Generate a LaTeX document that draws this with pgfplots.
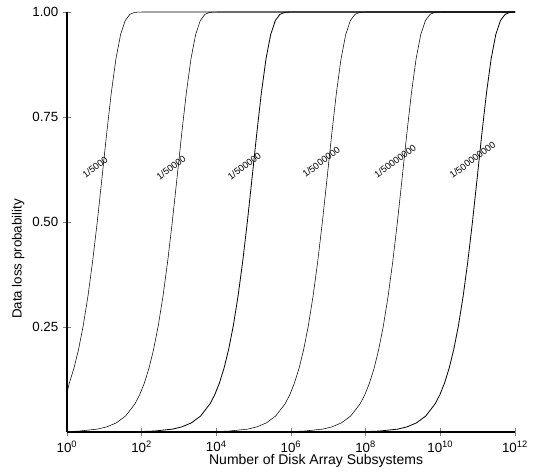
\documentclass[border=0pt]{standalone}
\usepackage{fontspec}
\setmainfont{Liberation Sans}
\usepackage{pgfplots}
\pgfplotsset{compat=1.18}

\begin{document}
\begin{tikzpicture}
\begin{axis}[
    scale only axis,
    width=336pt,
    height=315pt,
    xmin=0, xmax=12,
    ymin=0, ymax=1,
    axis x line*=bottom,
    axis y line*=left,
    axis line style={line width=1.5pt, black},
    clip=false,
    xtick={0,2,4,6,8,10,12},
    xticklabels={10\textsuperscript{0},10\textsuperscript{2},10\textsuperscript{4},10\textsuperscript{6},10\textsuperscript{8},10\textsuperscript{10},10\textsuperscript{12}},
    ytick={0.25,0.5,0.75,1},
    yticklabels={0.25,0.50,0.75,1.00},
    tick align=center,
    major tick length=6pt,
    tick style={line width=0.4pt, gray},
    ticklabel style={font=\fontsize{10}{12}\selectfont},
    xlabel={Number of Disk Array Subsystems},
    ylabel={Data loss probability},
    xlabel style={font=\fontsize{10.5}{12}\selectfont, at={(axis description cs:0.556,-0.069)}, anchor=center},
    ylabel style={font=\fontsize{10}{12}\selectfont, at={(axis description cs:-0.109,0.412)}, anchor=center},
    cycle list={{black, no markers, line width=0.6pt}},
]
\coordinate (bl) at (rel axis cs:0,0);
\addplot coordinates {(0,0.093) (0.06,0.116) (0.185,0.1515) (0.31,0.1968) (0.435,0.2534) (0.56,0.3228) (0.685,0.4053) (0.81,0.5) (0.935,0.6032) (1.06,0.7084) (1.185,0.8067) (1.31,0.8882) (1.435,0.9462) (1.56,0.9797) (1.685,0.9945) (1.81,0.999) (1.935,0.9999) (2.06,1) (12,1)};
\addplot coordinates {(0,0.001) (0.32,0.0022) (0.82,0.0069) (1.07,0.0123) (1.32,0.0217) (1.57,0.0382) (1.82,0.067) (1.945,0.0883) (2.07,0.116) (2.195,0.1515) (2.32,0.1968) (2.445,0.2534) (2.57,0.3228) (2.695,0.4053) (2.82,0.5) (2.945,0.6032) (3.07,0.7084) (3.195,0.8067) (3.32,0.8882) (3.445,0.9462) (3.57,0.9797) (3.695,0.9945) (3.82,0.999) (3.945,0.9999) (4.07,1) (12,1)};
\addplot coordinates {(0,0) (1.83,0.0007) (2.33,0.0022) (2.83,0.0069) (3.08,0.0123) (3.33,0.0217) (3.58,0.0382) (3.83,0.067) (3.955,0.0883) (4.08,0.116) (4.205,0.1515) (4.33,0.1968) (4.455,0.2534) (4.58,0.3228) (4.705,0.4053) (4.83,0.5) (4.955,0.6032) (5.08,0.7084) (5.205,0.8067) (5.33,0.8882) (5.455,0.9462) (5.58,0.9797) (5.705,0.9945) (5.83,0.999) (5.955,0.9999) (6.08,1) (12,1)};
\addplot coordinates {(0,0) (3.84,0.0007) (4.34,0.0022) (4.84,0.0069) (5.09,0.0123) (5.34,0.0217) (5.59,0.0382) (5.84,0.067) (5.965,0.0883) (6.09,0.116) (6.215,0.1515) (6.34,0.1968) (6.465,0.2534) (6.59,0.3228) (6.715,0.4053) (6.84,0.5) (6.965,0.6032) (7.09,0.7084) (7.215,0.8067) (7.34,0.8882) (7.465,0.9462) (7.59,0.9797) (7.715,0.9945) (7.84,0.999) (7.965,0.9999) (8.09,1) (12,1)};
\addplot coordinates {(0,0) (5.85,0.0007) (6.35,0.0022) (6.85,0.0069) (7.1,0.0123) (7.35,0.0217) (7.6,0.0382) (7.85,0.067) (7.975,0.0883) (8.1,0.116) (8.225,0.1515) (8.35,0.1968) (8.475,0.2534) (8.6,0.3228) (8.725,0.4053) (8.85,0.5) (8.975,0.6032) (9.1,0.7084) (9.225,0.8067) (9.35,0.8882) (9.475,0.9462) (9.6,0.9797) (9.725,0.9945) (9.85,0.999) (9.975,0.9999) (10.1,1) (12,1)};
\addplot coordinates {(0,0) (7.86,0.0007) (8.36,0.0022) (8.86,0.0069) (9.11,0.0123) (9.36,0.0217) (9.61,0.0382) (9.86,0.067) (9.985,0.0883) (10.11,0.116) (10.235,0.1515) (10.36,0.1968) (10.485,0.2534) (10.61,0.3228) (10.735,0.4053) (10.86,0.5) (10.985,0.6032) (11.11,0.7084) (11.235,0.8067) (11.36,0.8882) (11.485,0.9462) (11.61,0.9797) (11.735,0.9945) (11.86,0.999) (11.985,0.9999) (12,1)};
\begin{scope}[every node/.style={font=\fontsize{7}{8}\selectfont, rotate=37, inner sep=0pt}]
\node at (axis cs:0.75,0.63) {1/5000};
\node at (axis cs:2.79,0.63) {1/50000};
\node at (axis cs:4.75,0.633) {1/500000};
\node at (axis cs:6.81,0.643) {1/5000000};
\node at (axis cs:8.79,0.645) {1/50000000};
\node at (axis cs:10.86,0.648) {1/500000000};
\end{scope}
\end{axis}
\pgfresetboundingbox
\path (bl) ++(-50.25pt,-29.25pt) rectangle ++(405.75pt,353.25pt);
\end{tikzpicture}
\end{document}
